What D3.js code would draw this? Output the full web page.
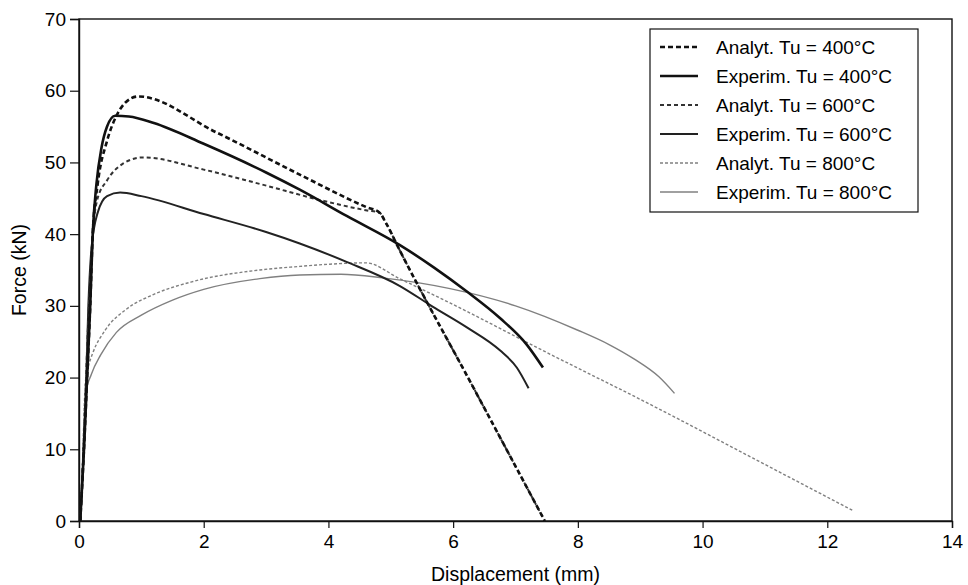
<script src="https://d3js.org/d3.v7.min.js"></script>

<style type="text/css">
  body { margin: 0; background: #fff; }
  svg { width: 968px; height: 585px; font-family: "Liberation Sans", Arial, sans-serif; }
</style>

<body></body>

<script>
  // data: [displacement (mm), force (kN)]
  var analyt400 = [[0.02,0],[0.08,10],[0.13,20],[0.18,30],[0.22,40],[0.3,47],[0.45,53],[0.6,56.5],[0.75,58.4],[0.95,59.2],[2.2,54.2],[3.54,48.3],[4.6,43.8],[4.82,43],[4.92,41.6],[5.14,37.8],[6.3,19],[7.47,0]];
  var experim400 = [[0.02,0],[0.08,10],[0.13,20],[0.18,30],[0.22,40],[0.28,47],[0.36,52],[0.45,55],[0.58,56.5],[0.8,56.4],[1.2,55.5],[2,52.6],[3,48.6],[3.54,46.2],[4.3,42.5],[5.14,38.5],[5.7,35.3],[6.22,32],[6.75,28.3],[7.18,24.6],[7.44,21.4]];
  var analyt600 = [[0.02,0],[0.08,12],[0.13,24],[0.18,34],[0.22,40],[0.29,44.7],[0.45,47.5],[0.7,49.8],[1.03,50.7],[2,49],[2.9,47],[3.94,44.6],[4.62,43.3],[4.82,43],[4.92,41.6],[5.14,37.8],[6.3,19],[7.47,0]];
  var experim600 = [[0.02,0],[0.1,15],[0.15,30],[0.2,38],[0.3,43],[0.45,45.3],[0.66,45.8],[1,45.3],[2,42.8],[3,40.3],[3.54,38.7],[4.3,36.1],[5.14,32.8],[5.67,29.9],[6.22,27],[6.75,23.8],[7.02,21.4],[7.21,18.5]];
  var analyt800 = [[0.03,0],[0.07,12],[0.1,19],[0.15,21.5],[0.22,23.4],[0.42,26.6],[0.77,29.6],[1.2,31.6],[1.83,33.4],[2.9,35],[3.54,35.5],[4.0,35.8],[4.6,36.0],[5.14,33.8],[5.95,30.4],[7.5,23.5],[9.15,16.3],[10.8,8.8],[12.4,1.5]];
  var experim800 = [[0.03,0],[0.07,11],[0.1,17.5],[0.2,20.5],[0.35,23.2],[0.6,26.3],[1.0,28.7],[1.5,30.8],[2,32.3],[2.9,33.8],[3.54,34.3],[4.2,34.4],[4.87,33.9],[5.95,32.4],[7,30],[8,26.6],[8.5,24.6],[8.9,22.6],[9.3,20.1],[9.55,17.8]];

  var legendLabels = ["Analyt. Tu = 400°C", "Experim. Tu = 400°C", "Analyt. Tu = 600°C",
                      "Experim. Tu = 600°C", "Analyt. Tu = 800°C", "Experim. Tu = 800°C"];
  var xTicks = [0, 2, 4, 6, 8, 10, 12, 14];
  var yTicks = [0, 10, 20, 30, 40, 50, 60, 70];

  // styles per series (same order as legend)
  var series = [
    {data: analyt400,  color: "#111", width: 2.6, dash: "5,3"},
    {data: experim400, color: "#111", width: 2.6, dash: null},
    {data: analyt600,  color: "#333", width: 2,   dash: "4,3"},
    {data: experim600, color: "#222", width: 2,   dash: null},
    {data: analyt800,  color: "#808080", width: 1.4, dash: "3,2"},
    {data: experim800, color: "#808080", width: 1.4, dash: null}
  ];

  var svg = d3.select('body').append('svg');

  var xScale = d3.scaleLinear().domain([0, 14]).range([79, 952]);
  var yScale = d3.scaleLinear().domain([0, 70]).range([521, 19]);

  // frame
  svg.append('rect')
    .attr('x', xScale(0)).attr('y', yScale(70))
    .attr('width', xScale(14) - xScale(0))
    .attr('height', yScale(0) - yScale(70))
    .attr('fill', 'none').attr('stroke', '#111').attr('stroke-width', 1.4);

  // axes
  var xAxis = d3.axisBottom(xScale).tickValues(xTicks).tickSize(7).tickPadding(7);
  var yAxis = d3.axisLeft(yScale).tickValues(yTicks).tickSize(9).tickPadding(4);

  var gx = svg.append('g')
    .attr('transform', 'translate(' + [0, yScale(0)] + ')')
    .call(xAxis);
  var gy = svg.append('g')
    .attr('transform', 'translate(' + [xScale(0), 0] + ')')
    .call(yAxis);

  [gx, gy].forEach(function(g) {
    g.select('.domain').attr('stroke', '#111').attr('stroke-width', 1.4);
    g.selectAll('.tick line').attr('stroke', '#111').attr('stroke-width', 1.2);
    g.selectAll('.tick text').attr('fill', '#000').style('font-size', '19px')
      .style('font-family', '"Liberation Sans", Arial, sans-serif');
  });

  svg.append('text')
    .attr('x', (xScale(0) + xScale(14)) / 2)
    .attr('y', 581)
    .attr('text-anchor', 'middle')
    .style('font-size', '19.5px')
    .attr('fill', '#000')
    .text('Displacement (mm)');

  svg.append('text')
    .attr('transform', 'translate(' + [26, yScale(35)] + ') rotate(-90)')
    .attr('text-anchor', 'middle')
    .style('font-size', '19.5px')
    .attr('fill', '#000')
    .text('Force (kN)');

  // curves
  var line = d3.line()
    .x(d => xScale(d[0]))
    .y(d => yScale(d[1]))
    .curve(d3.curveMonotoneX);

  var drawOrder = [5, 4, 3, 2, 1, 0];
  drawOrder.forEach(function(i) {
    var s = series[i];
    svg.append('path')
      .datum(s.data)
      .attr('d', line)
      .attr('fill', 'none')
      .attr('stroke', s.color)
      .attr('stroke-width', s.width)
      .attr('stroke-dasharray', s.dash)
      .attr('stroke-linejoin', 'round');
  });

  // legend
  var legend = svg.append('g').attr('transform', 'translate(650,29)');
  legend.append('rect')
    .attr('width', 268).attr('height', 183)
    .attr('fill', '#fff').attr('stroke', '#111').attr('stroke-width', 1.2);

  var rows = legend.selectAll('g.row')
    .data(series)
    .enter().append('g')
    .attr('class', 'row')
    .attr('transform', (d, i) => 'translate(0,' + (18 + i * 29) + ')');

  rows.append('line')
    .attr('x1', 10).attr('x2', 48)
    .attr('stroke', d => d.color)
    .attr('stroke-width', d => d.width)
    .attr('stroke-dasharray', d => d.dash);

  rows.append('text')
    .attr('x', 66).attr('y', 7)
    .style('font-size', '19px')
    .attr('fill', '#000')
    .text((d, i) => legendLabels[i]);
</script>
